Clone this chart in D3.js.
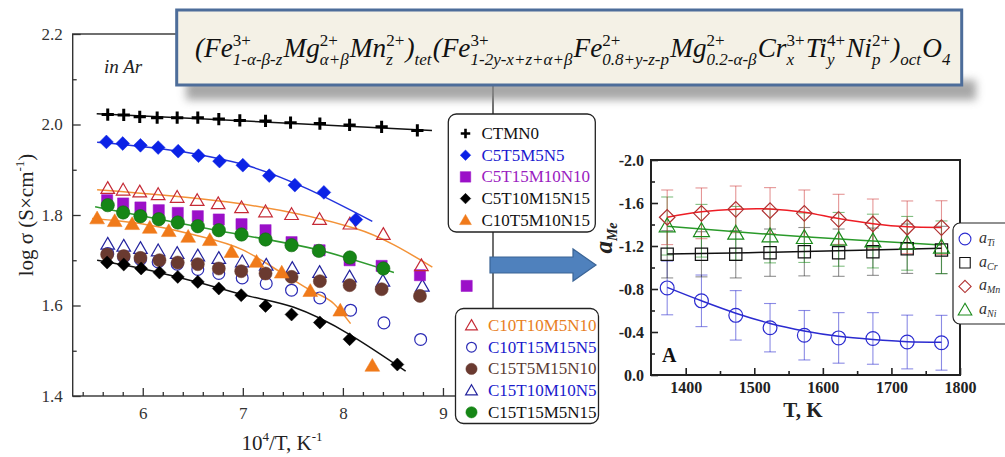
<!DOCTYPE html>
<html><head><meta charset="utf-8">
<script src="https://cdn.jsdelivr.net/npm/d3@7"></script>
<style>
body{margin:0;background:#fff;overflow:hidden}
svg{display:block}
text{font-family:"Liberation Serif","Times New Roman",serif}
</style>
</head><body>
<svg id="c" width="1005" height="457"></svg>
<script>
// ---------------- LEFT PLOT DATA (10^4/T, log sigma) ----------------
const xCTMN0 = [5.65,5.81,5.97,6.144,6.344,6.55,6.76,6.97,7.227,7.477,7.77,8.067,8.387,8.744];
const yCTMN0 = [2.022,2.021,2.017,2.015,2.015,2.015,2.012,2.009,2.008,2.004,2.002,1.999,1.995,1.987];
const xC5T5M5N5 = [5.637,5.80,5.977,6.154,6.354,6.557,6.767,7.0,7.264,7.52,7.81,8.13];
const yC5T5M5N5 = [1.9615,1.958,1.954,1.949,1.941,1.931,1.919,1.910,1.887,1.866,1.850,1.790];
const xC5T15M10N10 = [5.644,5.804,5.977,6.16,6.35,6.55,6.76,6.987,7.227,7.487,7.767,8.067,8.387,8.77,9.237];
const yC5T15M10N10 = [1.8327,1.8254,1.8166,1.8106,1.8046,1.7973,1.79,1.7797,1.7664,1.74,1.722,1.700,1.6875,1.667,1.6433];
const xC5T10M15N15 = [5.644,5.81,5.984,6.167,6.35,6.55,6.76,6.984,7.227,7.487,7.77,8.067,8.544];
const yC5T10M15N15 = [1.695,1.6906,1.6818,1.6729,1.6632,1.6522,1.6376,1.6228,1.5991,1.5801,1.5624,1.5255,1.4696];
const xC10T5M10N15 = [5.544,5.72,5.894,6.07,6.26,6.454,6.67,6.887,7.137,7.389,7.674,7.974,8.294];
const yC10T5M10N15 = [1.7923,1.7863,1.7797,1.7715,1.7642,1.7516,1.7443,1.718,1.6963,1.6725,1.6318,1.5885,1.4666];
const xC10T10M5N10 = [5.65,5.804,5.97,6.154,6.344,6.544,6.754,6.987,7.227,7.487,7.767,8.07,8.404,8.784];
const yC10T10M5N10 = [1.8586,1.855,1.851,1.845,1.839,1.832,1.825,1.816,1.807,1.801,1.790,1.780,1.757,1.688];
const xC10T15M15N5 = [5.65,5.81,5.977,6.154,6.344,6.55,6.76,6.994,7.234,7.487,7.77,8.077,8.41,8.777];
const yC10T15M15N5 = [1.715,1.7074,1.7017,1.6964,1.6913,1.6796,1.6707,1.661,1.6486,1.6338,1.6168,1.5896,1.5616,1.5249];
const xC15T5M15N10 = [5.644,5.81,5.977,6.167,6.35,6.55,6.76,6.984,7.227,7.487,7.77,8.067,8.387,8.77];
const yC15T5M15N10 = [1.7127,1.709,1.7052,1.7001,1.695,1.6913,1.6818,1.6758,1.6707,1.6632,1.6537,1.6449,1.636,1.6212];
const xC15T10M10N5 = [5.65,5.81,5.977,6.154,6.344,6.55,6.76,6.994,7.234,7.494,7.767,8.067,8.4,8.794];
const yC15T10M10N5 = [1.7355,1.7311,1.726,1.7207,1.715,1.7096,1.704,1.6964,1.689,1.6818,1.673,1.6632,1.6537,1.6427];
const xC15T15M5N15 = [5.65,5.804,5.977,6.16,6.35,6.55,6.76,6.987,7.227,7.487,7.76,8.07,8.404];
const yC15T15M5N15 = [1.8217,1.8056,1.7973,1.7907,1.7834,1.7752,1.7664,1.7569,1.7459,1.7333,1.7207,1.7061,1.6818];

// fitted lines
const fitCTMN0 = [[5.54,2.024],[8.89,1.987]];
const fitC5T5M5N5 = [[5.544,1.961],[6.5,1.936],[7.0,1.912],[8.294,1.786]];
const fitC10T10M5N10 = [[5.544,1.856],[8.127,1.770],[8.894,1.685]];
const fitC15T15M5N15 = [[5.524,1.818],[6.76,1.765],[7.77,1.722],[8.51,1.673]];
const fitC10T5M10N15 = [[5.494,1.792],[6.0,1.780],[6.5,1.757],[7.0,1.723],[7.39,1.672],[7.67,1.634],[7.91,1.604],[8.077,1.560]];
const fitC5T10M15N15 = [[5.544,1.700],[6.0,1.681],[6.5,1.654],[7.0,1.624],[7.51,1.596],[8.627,1.455]];

const xTicksLeft = [6,7,8,9];
const yTicksLeft = [1.4,1.6,1.8,2.0,2.2];

// ---------------- RIGHT PLOT DATA ----------------
const temps = [1373,1423,1473,1523,1573,1623,1673,1723,1773];
const aTi = [-0.81,-0.69,-0.555,-0.44,-0.37,-0.345,-0.34,-0.307,-0.30];
const errTi = [0.25,0.24,0.23,0.225,0.23,0.235,0.24,0.25,0.255];
const aCr = [-1.123,-1.123,-1.123,-1.138,-1.147,-1.138,-1.147,-1.175,-1.163];
const errCr = [0.22,0.21,0.22,0.22,0.225,0.22,0.22,0.23,0.22];
const aMn = [-1.467,-1.504,-1.541,-1.529,-1.504,-1.448,-1.405,-1.374,-1.371];
const errMn = [0.254,0.236,0.217,0.214,0.217,0.233,0.232,0.245,0.25];
const aNi = [-1.386,-1.342,-1.318,-1.293,-1.277,-1.262,-1.246,-1.225,-1.188];
const errNi = [0.27,0.245,0.25,0.25,0.23,0.25,0.25,0.25,0.245];
const fitTi = [[1373,-0.815],[1423,-0.69],[1473,-0.575],[1523,-0.48],[1573,-0.41],[1623,-0.36],[1673,-0.33],[1723,-0.31],[1773,-0.305]];
const fitCr = [[1373,-1.125],[1573,-1.148],[1773,-1.178]];
const fitMn = [[1373,-1.467],[1423,-1.518],[1473,-1.543],[1523,-1.545],[1573,-1.515],[1623,-1.455],[1673,-1.407],[1723,-1.378],[1773,-1.372]];
const fitNi = [[1373,-1.383],[1573,-1.285],[1773,-1.21]];
const xTicksRight = [1400,1500,1600,1700,1800];
const yTicksRight = [0,-0.4,-0.8,-1.2,-1.6,-2.0];

// ======================================================================
const svg = d3.select("#c");
const defs = svg.append("defs");
defs.append("filter").attr("id","blur").attr("x","-10%").attr("y","-100%").attr("width","120%").attr("height","300%")
  .append("feGaussianBlur").attr("stdDeviation",4);

const serif = '"Liberation Serif","Times New Roman",serif';

// ---------------- LEFT PLOT ----------------
const lx = d3.scaleLinear([5.3,9.5],[72.7,493]);
const ly = d3.scaleLinear([1.4,2.2],[396,34]);
const gL = svg.append("g");

gL.append("rect").attr("x",lx(5.3)).attr("y",ly(2.2))
  .attr("width",lx(9.5)-lx(5.3)).attr("height",ly(1.4)-ly(2.2))
  .attr("fill","none").attr("stroke","#333").attr("stroke-width",1.4);

const minorX = d3.range(5.4,9.45,0.2).filter(v=>Math.abs(v-Math.round(v))>0.01);
const minorY = [1.5,1.7,1.9,2.1];

function styleAxis(g, size, color){
  g.select(".domain").remove();
  g.selectAll("line").attr("stroke","#333").attr("stroke-width",1.3);
  g.selectAll("text").attr("font-family",serif).attr("font-size",size).attr("fill",color);
}
gL.append("g").attr("transform",`translate(0,${ly(1.4)})`)
  .call(d3.axisBottom(lx).tickValues(xTicksLeft).tickFormat(d3.format("d")).tickSize(-8).tickPadding(11))
  .call(g=>styleAxis(g,17,"#333"));
gL.append("g").attr("transform",`translate(0,${ly(1.4)})`)
  .call(d3.axisBottom(lx).tickValues(minorX).tickFormat("").tickSize(-4))
  .call(g=>styleAxis(g,17,"#333"));
gL.append("g").attr("transform",`translate(${lx(5.3)},0)`)
  .call(d3.axisLeft(ly).tickValues(yTicksLeft).tickFormat(d3.format(".1f")).tickSize(-8).tickPadding(10))
  .call(g=>styleAxis(g,17,"#333"));
gL.append("g").attr("transform",`translate(${lx(5.3)},0)`)
  .call(d3.axisLeft(ly).tickValues(minorY).tickFormat("").tickSize(-4))
  .call(g=>styleAxis(g,17,"#333"));

// axis titles
const xt = gL.append("text").attr("x",282).attr("y",450).attr("text-anchor","middle")
  .attr("font-size",21).attr("fill","#222");
xt.append("tspan").text("10");
xt.append("tspan").attr("font-size",13).attr("dy",-9).text("4");
xt.append("tspan").attr("dy",9).text("/T, K");
xt.append("tspan").attr("font-size",13).attr("dy",-9).text("-1");

const yt = gL.append("text").attr("transform","translate(33,215) rotate(-90)").attr("text-anchor","middle")
  .attr("font-size",21).attr("fill","#222");
yt.append("tspan").text("log σ (S×cm");
yt.append("tspan").attr("font-size",13).attr("dy",-9).text("-1");
yt.append("tspan").attr("dy",9).text(")");

gL.append("text").attr("x",104).attr("y",73).attr("font-size",19).attr("font-style","italic")
  .attr("fill","#222").text("in Ar");

function marker(type, size){
  if(type==="cross") return d3.symbol().type({draw(ctx,s){const r=Math.sqrt(s)/2; ctx.moveTo(-r,0);ctx.lineTo(r,0);ctx.moveTo(0,-r);ctx.lineTo(0,r);}}).size(size)();
  if(type==="diamond") return d3.symbol().type({draw(ctx,s){const r=Math.sqrt(s/2); ctx.moveTo(0,-r);ctx.lineTo(r,0);ctx.lineTo(0,r);ctx.lineTo(-r,0);ctx.closePath();}}).size(size)();
  if(type==="square") return d3.symbol(d3.symbolSquare,size)();
  if(type==="circle") return d3.symbol(d3.symbolCircle,size)();
  if(type==="triangle") return d3.symbol().type({draw(ctx,s){const a=Math.sqrt(s*4/Math.sqrt(3)); const h=a*Math.sqrt(3)/2; ctx.moveTo(0,-h*0.58);ctx.lineTo(a/2,h*0.42);ctx.lineTo(-a/2,h*0.42);ctx.closePath();}}).size(size)();
}

const leftSeries = [
  {name:"C10T15M15N5", x:xC10T15M15N5, y:yC10T15M15N5, type:"circle", size:110, fill:"none", stroke:"#2b2bb5", sw:1.2},
  {name:"C15T10M10N5", x:xC15T10M10N5, y:yC15T10M10N5, type:"triangle", size:80, fill:"none", stroke:"#24249e", sw:1.2},
  {name:"C15T5M15N10", x:xC15T5M15N10, y:yC15T5M15N10, type:"circle", size:135, fill:"#6a3a30", stroke:"#6a3a30", sw:0.5},
  {name:"C5T15M10N10", x:xC5T15M10N10, y:yC5T15M10N10, type:"square", size:125, fill:"#9b10c8", stroke:"#9b10c8", sw:0.5},
  {name:"C15T15M5N15", x:xC15T15M5N15, y:yC15T15M5N15, type:"circle", size:140, fill:"#168616", stroke:"#126a12", sw:0.6},
  {name:"C10T5M10N15", x:xC10T5M10N15, y:yC10T5M10N15, type:"triangle", size:95, fill:"#f07a1a", stroke:"#f07a1a", sw:0.5},
  {name:"C10T10M5N10", x:xC10T10M5N10, y:yC10T10M5N10, type:"triangle", size:80, fill:"none", stroke:"#c52a36", sw:1.2},
  {name:"C5T10M15N15", x:xC5T10M15N15, y:yC5T10M15N15, type:"diamond", size:85, fill:"#000", stroke:"#000", sw:0.5},
  {name:"C5T5M5N5", x:xC5T5M5N5, y:yC5T5M5N5, type:"diamond", size:95, fill:"#0b22e6", stroke:"#0b22e6", sw:0.5},
  {name:"CTMN0", x:xCTMN0, y:yCTMN0, type:"cross", size:150, fill:"none", stroke:"#000", sw:3},
];
const leftFits = [
  {pts:fitCTMN0, color:"#111"},
  {pts:fitC5T5M5N5, color:"#2233dd"},
  {pts:fitC10T10M5N10, color:"#f39237"},
  {pts:fitC15T15M5N15, color:"#2e9a2e"},
  {pts:fitC10T5M10N15, color:"#f39237"},
  {pts:fitC5T10M15N15, color:"#111"},
];
const lineL = d3.line().x(d=>lx(d[0])).y(d=>ly(d[1])).curve(d3.curveMonotoneX);
leftFits.forEach(f=>{
  gL.append("path").attr("d",lineL(f.pts)).attr("fill","none").attr("stroke",f.color).attr("stroke-width",1.5);
});
leftSeries.forEach(s=>{
  const pts = s.x.map((v,i)=>[v,s.y[i]]);
  gL.append("g").selectAll("path").data(pts).join("path")
    .attr("transform",d=>`translate(${lx(d[0])},${ly(d[1])})`)
    .attr("d",marker(s.type,s.size)).attr("fill",s.fill).attr("stroke",s.stroke).attr("stroke-width",s.sw);
});

// ---------------- FORMULA BOX ----------------
svg.append("rect").attr("x",186).attr("y",80).attr("width",790).attr("height",20)
  .attr("fill","#8a8a8a").attr("opacity",0.75).attr("filter","url(#blur)");
svg.append("rect").attr("x",176.7).attr("y",10).attr("width",785).attr("height",75)
  .attr("fill","#f4f1e6").attr("stroke","#4d6d9a").attr("stroke-width",3);

const tokens = [
  {b:"("},
  {b:"Fe", sup:"3+", sub:"1-α-β-z"},
  {b:"Mg", sup:"2+", sub:"α+β"},
  {b:"Mn", sup:"2+", sub:"z"},
  {b:")", sub:"tet"},
  {b:"(Fe", sup:"3+", sub:"1-2y-x+z+α+β"},
  {b:"Fe", sup:"2+", sub:"0.8+y-z-p"},
  {b:"Mg", sup:"2+", sub:"0.2-α-β"},
  {b:"Cr", sup:"3+", sub:"x"},
  {b:"Ti", sup:"4+", sub:"y"},
  {b:"Ni", sup:"2+", sub:"p"},
  {b:")", sub:"oct"},
  {b:"O", sub:"4"},
];
const gF = svg.append("g");
{
  const base = 24, small = 15;
  let x = 0;
  tokens.forEach(t=>{
    const e = gF.append("text").attr("x",x).attr("y",0).attr("font-size",base).attr("font-style","italic").attr("fill","#111").text(t.b);
    x += e.node().getComputedTextLength();
    let w = 0;
    if(t.sup){ const s = gF.append("text").attr("x",x).attr("y",-base*0.42).attr("font-size",small).attr("fill","#111").text(t.sup); w = Math.max(w,s.node().getComputedTextLength()); }
    if(t.sub){ const s = gF.append("text").attr("x",x).attr("y",base*0.3).attr("font-size",small).attr("font-style","italic").attr("fill","#111").text(t.sub); w = Math.max(w,s.node().getComputedTextLength()); }
    x += w + (w>0?1:0);
  });
  const bb = gF.node().getBBox();
  const s = (951-195)/bb.width;
  gF.attr("transform",`translate(${195 - bb.x*s},57) scale(${s})`);
}

// ---------------- LEFT LEGENDS ----------------
function legendBox(x,y,w,h){
  svg.append("rect").attr("x",x).attr("y",y).attr("width",w).attr("height",h).attr("rx",8)
    .attr("fill","#fff").attr("stroke","#222").attr("stroke-width",1.3);
}
const legend1 = [
  {name:"CTMN0", type:"cross", size:90, fill:"none", stroke:"#000", sw:2.6, tc:"#111"},
  {name:"C5T5M5N5", type:"diamond", size:55, fill:"#0b22e6", stroke:"#0b22e6", sw:0.5, tc:"#1a1ad0"},
  {name:"C5T15M10N10", type:"square", size:110, fill:"#9b10c8", stroke:"#9b10c8", sw:0.5, tc:"#9a20c0"},
  {name:"C5T10M15N15", type:"diamond", size:55, fill:"#000", stroke:"#000", sw:0.5, tc:"#111"},
  {name:"C10T5M10N15", type:"triangle", size:60, fill:"#f07a1a", stroke:"#f07a1a", sw:0.5, tc:"#111"},
];
const legend2 = [
  {name:"C10T10M5N10", type:"triangle", size:60, fill:"none", stroke:"#c52a36", sw:1.2, tc:"#e8801e"},
  {name:"C10T15M15N5", type:"circle", size:75, fill:"none", stroke:"#2b2bb5", sw:1.2, tc:"#1a1acc"},
  {name:"C15T5M15N10", type:"circle", size:100, fill:"#6a3a30", stroke:"#6a3a30", sw:0.5, tc:"#5a3a32"},
  {name:"C15T10M10N5", type:"triangle", size:60, fill:"none", stroke:"#24249e", sw:1.2, tc:"#1a1acc"},
  {name:"C15T15M5N15", type:"circle", size:100, fill:"#168616", stroke:"#168616", sw:0.5, tc:"#111"},
];
function drawLegend(items, mx, tx, y0, dy){
  items.forEach((it,i)=>{
    const y = y0 + i*dy;
    svg.append("path").attr("transform",`translate(${mx},${y})`).attr("d",marker(it.type,it.size))
      .attr("fill",it.fill).attr("stroke",it.stroke).attr("stroke-width",it.sw);
    svg.append("text").attr("x",tx).attr("y",y+5.5).attr("font-size",17).attr("fill",it.tc).text(it.name);
  });
}
legendBox(448.3,114,147,118);
drawLegend(legend1, 465.5, 481.5, 133.5, 21.7);
legendBox(455.5,308.5,143,115);
drawLegend(legend2, 471.5, 488, 325.5, 21.7);

// arrow
svg.append("path").attr("d","M490,257 L573,257 L573,249 L596,265 L573,281 L573,273 L490,273 Z")
  .attr("fill","#4f81bd").attr("stroke","#3a6496").attr("stroke-width",1.2);

// ---------------- RIGHT PLOT ----------------
const rx = d3.scaleLinear([1349.4,1800],[651,960]);
const ry = d3.scaleLinear([0,-2],[375,160]);
const gR = svg.append("g");

const rSeries = [
  {v:aTi, e:errTi, fit:fitTi, type:"circle", size:150, stroke:"#2b2bd0", line:"#2b2bd0", err:"#2b2bd0"},
  {v:aCr, e:errCr, fit:fitCr, type:"square", size:150, stroke:"#111", line:"#111", err:"#333"},
  {v:aNi, e:errNi, fit:fitNi, type:"triangle", size:110, stroke:"#1a8a1a", line:"#2a9a2a", err:"#1a8a1a"},
  {v:aMn, e:errMn, fit:fitMn, type:"diamond", size:120, stroke:"#b03030", line:"#ee1c24", err:"#d04040"},
];
rSeries.forEach(s=>{
  const g = gR.append("g").attr("stroke",s.err).attr("stroke-opacity",0.55).attr("stroke-width",1.1);
  temps.forEach((t,i)=>{
    const x = rx(t), y1 = ry(s.v[i]-s.e[i]), y2 = ry(s.v[i]+s.e[i]);
    g.append("line").attr("x1",x).attr("x2",x).attr("y1",y1).attr("y2",y2);
    g.append("line").attr("x1",x-6).attr("x2",x+6).attr("y1",y1).attr("y2",y1);
    g.append("line").attr("x1",x-6).attr("x2",x+6).attr("y1",y2).attr("y2",y2);
  });
});
const lineR = d3.line().x(d=>rx(d[0])).y(d=>ry(d[1])).curve(d3.curveCatmullRom);
rSeries.forEach(s=>{
  gR.append("path").attr("d",lineR(s.fit)).attr("fill","none").attr("stroke",s.line).attr("stroke-width",1.5);
});
rSeries.forEach(s=>{
  gR.append("g").selectAll("path").data(temps.map((t,i)=>[t,s.v[i]])).join("path")
    .attr("transform",d=>`translate(${rx(d[0])},${ry(d[1])})`)
    .attr("d",marker(s.type,s.size)).attr("fill","none").attr("stroke",s.stroke).attr("stroke-width",1.2);
});

gR.append("rect").attr("x",rx(1349.4)).attr("y",ry(-2)).attr("width",rx(1800)-rx(1349.4)).attr("height",ry(0)-ry(-2))
  .attr("fill","none").attr("stroke","#222").attr("stroke-width",2);

const fmtR = v => (Math.abs(v)<1e-9 ? "0.0" : "-"+Math.abs(v).toFixed(1));
function styleR(g){
  g.select(".domain").remove();
  g.selectAll("line").attr("stroke","#222").attr("stroke-width",1.6);
  g.selectAll("text").attr("font-family",serif).attr("font-size",16).attr("font-weight","bold").attr("fill","#222");
}
gR.append("g").attr("transform",`translate(0,${ry(0)})`)
  .call(d3.axisBottom(rx).tickValues(xTicksRight).tickFormat(d3.format("d")).tickSize(-7).tickPadding(7)).call(styleR);
gR.append("g").attr("transform",`translate(0,${ry(0)})`)
  .call(d3.axisBottom(rx).tickValues([1450,1550,1650,1750]).tickFormat("").tickSize(-4)).call(styleR);
gR.append("g").attr("transform",`translate(${rx(1349.4)},0)`)
  .call(d3.axisLeft(ry).tickValues(yTicksRight).tickFormat(fmtR).tickSize(-7).tickPadding(7)).call(styleR);
gR.append("g").attr("transform",`translate(${rx(1349.4)},0)`)
  .call(d3.axisLeft(ry).tickValues([-0.2,-0.6,-1.0,-1.4,-1.8]).tickFormat("").tickSize(-4)).call(styleR);

gR.append("text").attr("x",803).attr("y",417).attr("text-anchor","middle").attr("font-size",21)
  .attr("font-weight","bold").attr("fill","#222").text("T, K");
const ya = gR.append("text").attr("transform","translate(612,238) rotate(-90)").attr("text-anchor","middle")
  .attr("font-weight","bold").attr("font-style","italic").attr("fill","#222");
ya.append("tspan").attr("font-size",25).text("a");
ya.append("tspan").attr("font-size",14).attr("dy",5).text("Me");
gR.append("text").attr("x",662).attr("y",362).attr("font-size",20).attr("font-weight","bold").attr("fill","#111").text("A");

// right legend
svg.append("rect").attr("x",953).attr("y",223).attr("width",62).attr("height",101).attr("rx",7)
  .attr("fill","#fff").attr("stroke","#222").attr("stroke-width",1.2);
const rLegend = [
  {sub:"Ti", type:"circle", size:110, stroke:"#2b2bd0"},
  {sub:"Cr", type:"square", size:110, stroke:"#111"},
  {sub:"Mn", type:"diamond", size:75, stroke:"#b03030"},
  {sub:"Ni", type:"triangle", size:80, stroke:"#1a8a1a"},
];
rLegend.forEach((it,i)=>{
  const y = 239 + i*23.7;
  svg.append("path").attr("transform",`translate(965,${y})`).attr("d",marker(it.type,it.size))
    .attr("fill","none").attr("stroke",it.stroke).attr("stroke-width",1.1);
  const t = svg.append("text").attr("x",979).attr("y",y+4).attr("font-style","italic").attr("fill","#333");
  t.append("tspan").attr("font-size",16).text("a");
  t.append("tspan").attr("font-size",10).attr("dy",3).text(it.sub);
});
</script>
</body></html>
